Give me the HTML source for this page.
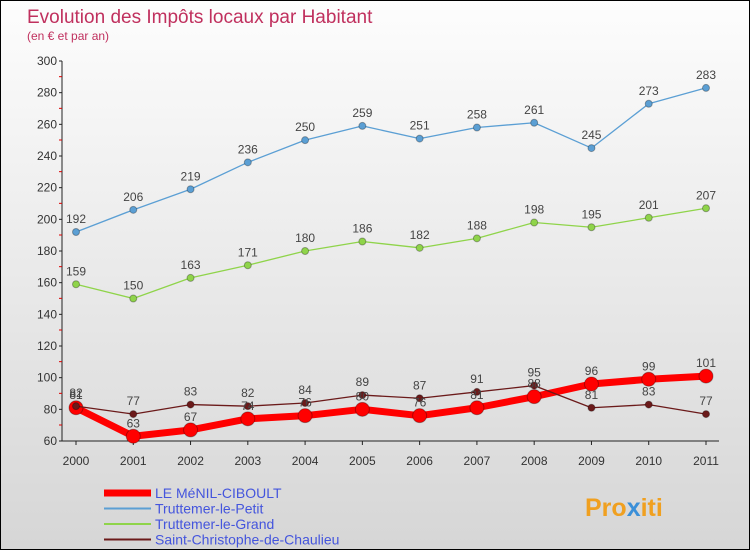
<!DOCTYPE html>
<html><head><meta charset="utf-8"><style>
body{margin:0}
#c{width:748px;height:548px;border:1px solid #000;background:linear-gradient(#fdfdfd,#d6d6d6);position:relative;font-family:"Liberation Sans",sans-serif;overflow:hidden}
</style></head><body>
<div id="c">
<svg width="748" height="548" id="svg">
<text x="26" y="22" font-size="19" fill="#c0305e">Evolution des Impôts locaux par Habitant</text>
<text x="26" y="39" font-size="12" fill="#c0305e">(en € et par an)</text>
<g id="axes"></g><g id="series"></g><g id="legend"></g>
<text x="584" y="515" font-size="25" font-weight="bold" fill="#f0a020">Pro<tspan fill="#3a8fd8">x</tspan><tspan fill="#f0a020">iti</tspan></text>
</svg></div>
<script>
const years=["2000","2001","2002","2003","2004","2005","2006","2007","2008","2009","2010","2011"];
const yTicks=[60,80,100,120,140,160,180,200,220,240,260,280,300];
const petit=[192,206,219,236,250,259,251,258,261,245,273,283];
const grand=[159,150,163,171,180,186,182,188,198,195,201,207];
const chaulieu=[82,77,83,82,84,89,87,91,95,81,83,77];
const menil=[81,63,67,74,76,80,76,81,88,96,99,101];
const NS="http://www.w3.org/2000/svg";
const xs=i=>75+i*(630/11);
const ys=v=>440-(v-60)*(380/240);
function mk(t,a,p){const e=document.createElementNS(NS,t);for(const k in a)e.setAttribute(k,a[k]);p.appendChild(e);return e;}
const ax=document.getElementById('axes');
let l=mk('line',{x1:61,y1:60,x2:61,y2:440,stroke:'#222'},ax);

l=mk('line',{x1:61,y1:440,x2:718,y2:440,stroke:'#222'},ax);

yTicks.forEach(v=>{const y=ys(v);mk('line',{x1:58,y1:y,x2:61,y2:y,stroke:'#222'},ax);
 if(v<300) mk('line',{x1:58,y1:y-16,x2:61,y2:y-16,stroke:'#d00'},ax);
 const t=mk('text',{x:56,y:y+4,'font-size':12,fill:'#333','text-anchor':'end'},ax);t.textContent=v;
 });
years.forEach((yr,i)=>{const x=xs(i);mk('line',{x1:x,y1:440,x2:x,y2:444,stroke:'#222'},ax);
 const t=mk('text',{x:x,y:464,'font-size':12,fill:'#333','text-anchor':'middle'},ax);t.textContent=yr;
 });
const sg=document.getElementById('series');
function series(d,col,w,r,name,labels){
 const g=mk('g',{},sg);
 mk('polyline',{points:d.map((v,i)=>xs(i)+','+ys(v)).join(' '),fill:'none',stroke:col,'stroke-width':w,'stroke-linejoin':'round'},g);
 d.forEach((v,i)=>{const c=mk('circle',{cx:xs(i),cy:ys(v),r:r,fill:col,stroke:'rgba(0,0,0,0.3)'},g);
  
  if(labels){const t=mk('text',{x:xs(i),y:ys(v)-9,'font-size':12,fill:'#444','text-anchor':'middle'},g);t.textContent=v;
  }});
}
series(petit,'#5b9fd4',1.3,3.5,'truttemer-le-petit',true);
series(grand,'#8fd44a',1.3,3.5,'truttemer-le-grand',true);
series(menil,'#ff0000',7,7,'le-menil-ciboult',false);
series(chaulieu,'#6b1a1a',1.3,3.5,'saint-christophe',true);
const g2=mk('g',{},sg);
menil.forEach((v,i)=>{const t=mk('text',{x:xs(i),y:ys(v)-9,'font-size':12,fill:'#444','text-anchor':'middle'},g2);t.textContent=v;
 });
const lg=document.getElementById('legend');
const items=[["LE MéNIL-CIBOULT","#ff0000",7],["Truttemer-le-Petit","#5b9fd4",2],["Truttemer-le-Grand","#8fd44a",2],["Saint-Christophe-de-Chaulieu","#6b1a1a",2]];
items.forEach((it,k)=>{const y=492+k*15.5;const g=mk('g',{},lg);
 
 mk('line',{x1:103,y1:y,x2:150,y2:y,stroke:it[1],'stroke-width':it[2]},g);
 const t=mk('text',{x:154,y:y+5,'font-size':14,fill:'#4455dd'},g);t.textContent=it[0];});
</script></body></html>
